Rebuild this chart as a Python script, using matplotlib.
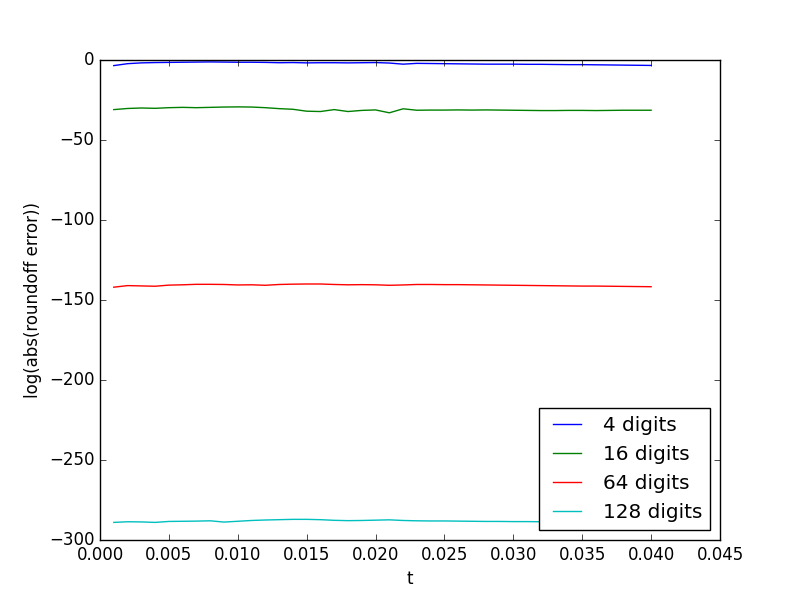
import matplotlib
matplotlib.use('Agg')
import matplotlib.pyplot as plt
import numpy as np

plt.style.use('classic')

t = [0.001 * (i + 1) for i in range(40)]

digits4 = [-3.5, -2.3, -1.8, -1.6, -1.5, -1.4, -1.3, -1.2, -1.3, -1.4,
           -1.4, -1.5, -1.7, -1.6, -1.8, -1.7, -1.7, -1.8, -1.7, -1.6,
           -1.9, -2.6, -2.1, -2.2, -2.3, -2.4, -2.5, -2.6, -2.6, -2.6,
           -2.7, -2.7, -2.8, -2.9, -2.9, -3.0, -3.1, -3.2, -3.3, -3.4]
digits16 = [-31.0, -30.3, -30.0, -30.2, -29.8, -29.6, -29.8, -29.6, -29.4, -29.3,
            -29.4, -29.8, -30.4, -30.8, -32.0, -32.2, -31.0, -32.2, -31.5, -31.2,
            -33.0, -30.5, -31.4, -31.3, -31.3, -31.2, -31.3, -31.2, -31.3, -31.4,
            -31.5, -31.6, -31.6, -31.5, -31.5, -31.6, -31.5, -31.4, -31.4, -31.4]
digits64 = [-142.0, -141.0, -141.2, -141.4, -140.7, -140.5, -140.2, -140.2, -140.3, -140.6,
            -140.5, -140.8, -140.3, -140.1, -140.0, -140.0, -140.3, -140.5, -140.4, -140.5,
            -140.8, -140.6, -140.3, -140.3, -140.4, -140.4, -140.5, -140.6, -140.7, -140.8,
            -140.9, -141.0, -141.1, -141.2, -141.3, -141.3, -141.4, -141.5, -141.6, -141.7]
digits128 = [-289.0, -288.6, -288.7, -289.0, -288.4, -288.3, -288.2, -288.0, -288.8, -288.3,
             -287.8, -287.5, -287.3, -287.1, -287.1, -287.3, -287.7, -287.9, -287.8, -287.6,
             -287.4, -287.8, -288.0, -288.1, -288.1, -288.2, -288.3, -288.4, -288.4, -288.5,
             -288.5, -288.6, -288.6, -288.7, -288.7, -288.8, -288.8, -288.9, -288.9, -289.0]

fig, ax = plt.subplots(figsize=(8, 6), dpi=100)
ax.plot(t, digits4, label='4 digits')
ax.plot(t, digits16, label='16 digits')
ax.plot(t, digits64, label='64 digits')
ax.plot(t, digits128, label='128 digits')

ax.set_xlim(0, 0.045)
ax.set_ylim(-300, 0)
ax.set_xlabel('t')
ax.set_ylabel('log(abs(roundoff error))')
ax.legend(loc='lower right')

fig.savefig('out.png', dpi=100)
